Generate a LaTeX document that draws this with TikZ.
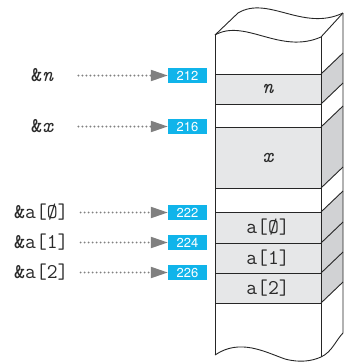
\documentclass[tikz,border=0pt]{standalone}
\usepackage{fontspec}
\setsansfont{TeX Gyre Heros}
\usetikzlibrary{arrows.meta}
\definecolor{cellgray}{HTML}{E6E7E8}
\definecolor{sidegray}{HTML}{D1D2D4}
\definecolor{addrblue}{HTML}{10B4EA}
\definecolor{ptrgray}{HTML}{808080}
\definecolor{inkgray}{HTML}{2A2A2A}
\newcommand{\memfont}{\ttfamily\fontsize{21}{21}\selectfont}

\begin{document}
\begin{tikzpicture}[x=1pt, y=-1pt,
    edge/.style={draw=black!85, line width=0.9pt},
    cell/.style={edge, fill=cellgray, minimum width=106pt, inner sep=0pt, text=inkgray, font=\memfont},
    addr/.style={fill=addrblue, text=white, minimum width=39pt, minimum height=15pt, inner sep=0pt, font=\sffamily\fontsize{13}{13}\selectfont},
    var/.style={anchor=west, inner sep=0pt, text=inkgray, font=\memfont},
    ptr/.style={draw=ptrgray, line width=2.1pt, dash pattern=on 0pt off 4pt, line cap=round, -{Triangle[length=17pt, width=11pt]}}]
    \useasboundingbox (0,0) rectangle (345,362);

    \node[cell, minimum height=30pt] (celln) at (268,89) {\itshape n};
    \node[cell, minimum height=61pt] (cellx) at (268,157.5) {\itshape x};
    \node[cell, minimum height=31pt] (cella0) at (268,227.5) {a[Ø]};
    \node[cell, minimum height=30pt] (cella1) at (268,258) {a[1]};
    \node[cell, minimum height=30pt] (cella2) at (268,288) {a[2]};

    \foreach \t/\b in {74/104, 127/188, 212/303}
        \fill[sidegray] (321,\t) -- (343,\t-21) -- (343,\b-21) -- (321,\b) -- cycle;
    \foreach \y in {74, 104, 127, 188, 212, 243, 273, 303}
        \draw[edge] (321,\y) -- (343,\y-21);

    \draw[edge] (215,35) .. controls (245,18) and (280,55) .. (321,37) -- (343,13);
    \draw[edge] (215,35) -- (238,13) .. controls (268,-5) and (303,32) .. (343,13);
    \draw[edge] (215,35) -- (215,355);
    \draw[edge] (321,37) -- (321,357);
    \draw[edge] (343,13) -- (343,333) .. controls (336,340) and (332,352) .. (321,357);
    \draw[edge] (215,355) .. controls (240,338) and (265,352) .. (285,359)
        .. controls (300,363) and (312,361) .. (321,357);

    \node[addr] (addrn) at (187.5,75.5) {212};
    \node[addr] (addrx) at (187.5,126.5) {216};
    \node[addr] (addra0) at (187.5,212.5) {222};
    \node[addr] (addra1) at (187.5,242.5) {224};
    \node[addr] (addra2) at (187.5,272.5) {226};

    \node[var] (varn) at (31,75.5) {{\bfseries\&}\itshape n};
    \node[var] (varx) at (31,126.5) {{\bfseries\&}\itshape x};
    \node[var] (vara0) at (14,212.5) {{\bfseries\&}a[Ø]};
    \node[var] (vara1) at (14,242.5) {{\bfseries\&}a[1]};
    \node[var] (vara2) at (14,272.5) {{\bfseries\&}a[2]};

    \draw[ptr] ([xshift=25pt]varn.east) -- (addrn.west);
    \draw[ptr] ([xshift=25pt]varx.east) -- (addrx.west);
    \draw[ptr] ([xshift=12pt]vara0.east) -- (addra0.west);
    \draw[ptr] ([xshift=12pt]vara1.east) -- (addra1.west);
    \draw[ptr] ([xshift=12pt]vara2.east) -- (addra2.west);
\end{tikzpicture}
\end{document}
